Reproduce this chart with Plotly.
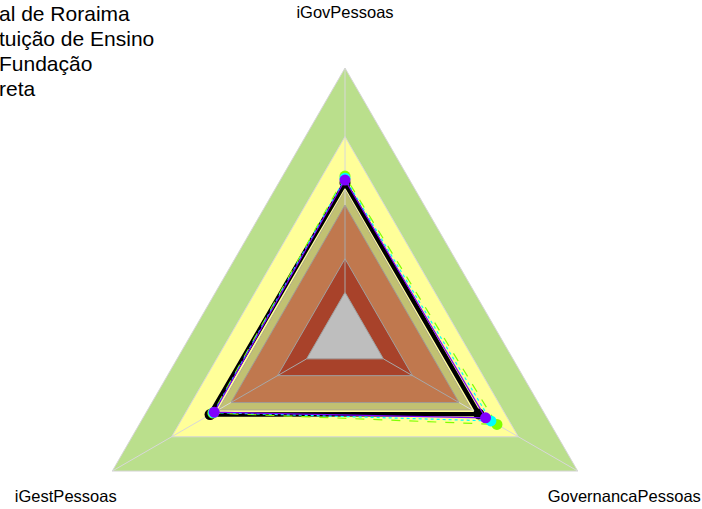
import numpy as np
import plotly.graph_objects as go

# ---------------- data ----------------
categories = ["iGovPessoas", "iGestPessoas", "GovernancaPessoas"]
angles_deg = [90, 210, 330]          # top, bottom-left, bottom-right

# background bands (outer radius of each band, scale max = 1)
band_levels = [1.0, 0.745, 0.545, 0.49, 0.29, 0.165]

series_names = ["al de Roraima", "tuição de Ensino", "Fundação", "reta"]
s_black = [0.572, 0.580, 0.575]
s_lime = [0.598, 0.568, 0.653]
s_cyan = [0.590, 0.565, 0.627]
s_purple = [0.583, 0.562, 0.604]

label_radius = 1.2

# ---------------- styles ----------------
band_colors = ["#BADF8C", "#FFFF99", "#C1C172", "#C0784E", "#A8422A", "#BEBEBE"]
band_lines = ["#D6D6D6", "#D6D6D6", "#B0A890", "#A09A94", "#A0A0A0", "#A0A0A0"]
FONT = "Arial, Liberation Sans, sans-serif"

ang = np.deg2rad(np.array(angles_deg, dtype=float))


def to_xy(r, closed=True):
    r = np.asarray(r, dtype=float)
    x = r * np.cos(ang)
    y = r * np.sin(ang)
    if closed:
        x = np.append(x, x[0])
        y = np.append(y, y[0])
    return x, y


fig = go.Figure()

# bands
for lvl, col, lc in zip(band_levels, band_colors, band_lines):
    x, y = to_xy([lvl] * 3)
    fig.add_trace(go.Scatter(x=x, y=y, mode="lines", fill="toself", fillcolor=col,
                             line=dict(color=lc, width=1), hoverinfo="skip",
                             showlegend=False))

# spokes
def spoke(r0, r1, color):
    xs, ys = [], []
    for a in ang:
        xs += [r0 * np.cos(a), r1 * np.cos(a), None]
        ys += [r0 * np.sin(a), r1 * np.sin(a), None]
    fig.add_trace(go.Scatter(x=xs, y=ys, mode="lines", line=dict(color=color, width=1),
                             hoverinfo="skip", showlegend=False))

spoke(band_levels[-1], band_levels[3], "#A8A8A8")
spoke(band_levels[3], band_levels[0], "#D8D8D8")

# series
series = [
    (series_names[0], s_black, "#000000", 4.5, "solid", 11),
    (series_names[2], s_lime, "#80FF00", 1.2, "dash", 11),
    (series_names[3], s_cyan, "#00FFFF", 1.2, "dot", 11),
    (series_names[1], s_purple, "#8000FF", 1.2, "solid", 11),
]
for name, vals, col, w, dash, ms in series:
    x, y = to_xy(vals)
    fig.add_trace(go.Scatter(x=x, y=y, mode="lines", name=name,
                             line=dict(color=col, width=w, dash=dash),
                             showlegend=False))
    fig.add_trace(go.Scatter(x=x[:-1], y=y[:-1], mode="markers", name=name,
                             marker=dict(color=col, size=ms), showlegend=False))

# axis labels
lx, ly = to_xy([label_radius] * 3, closed=False)
fig.add_trace(go.Scatter(x=lx, y=ly, mode="text", text=categories,
                         textposition="middle center",
                         textfont=dict(family=FONT, size=16.5, color="#000000"),
                         hoverinfo="skip", showlegend=False))

# legend text (clipped at the left edge as in the reference)
legend_baselines = [21, 46, 71, 96]
for name, yb in zip(series_names, legend_baselines):
    fig.add_annotation(x=0, y=1 - (yb - 21) / 509, xref="paper", yref="paper",
                       xanchor="left", yanchor="top", xshift=-3,
                       text=name, showarrow=False,
                       font=dict(family=FONT, size=21, color="#000000"))

R_PX = 268.7
CX, CY = 345.0, 336.7
W, H = 702, 509
fig.update_layout(
    width=W, height=H,
    margin=dict(l=0, r=0, t=0, b=0),
    paper_bgcolor="white", plot_bgcolor="white",
    xaxis=dict(range=[-CX / R_PX, (W - CX) / R_PX], visible=False, fixedrange=True),
    yaxis=dict(range=[-(H - CY) / R_PX, CY / R_PX], visible=False, fixedrange=True),
    showlegend=False,
)

fig.write_html("out.html", config={"displayModeBar": False},
               post_script="document.body.style.margin='0';")
